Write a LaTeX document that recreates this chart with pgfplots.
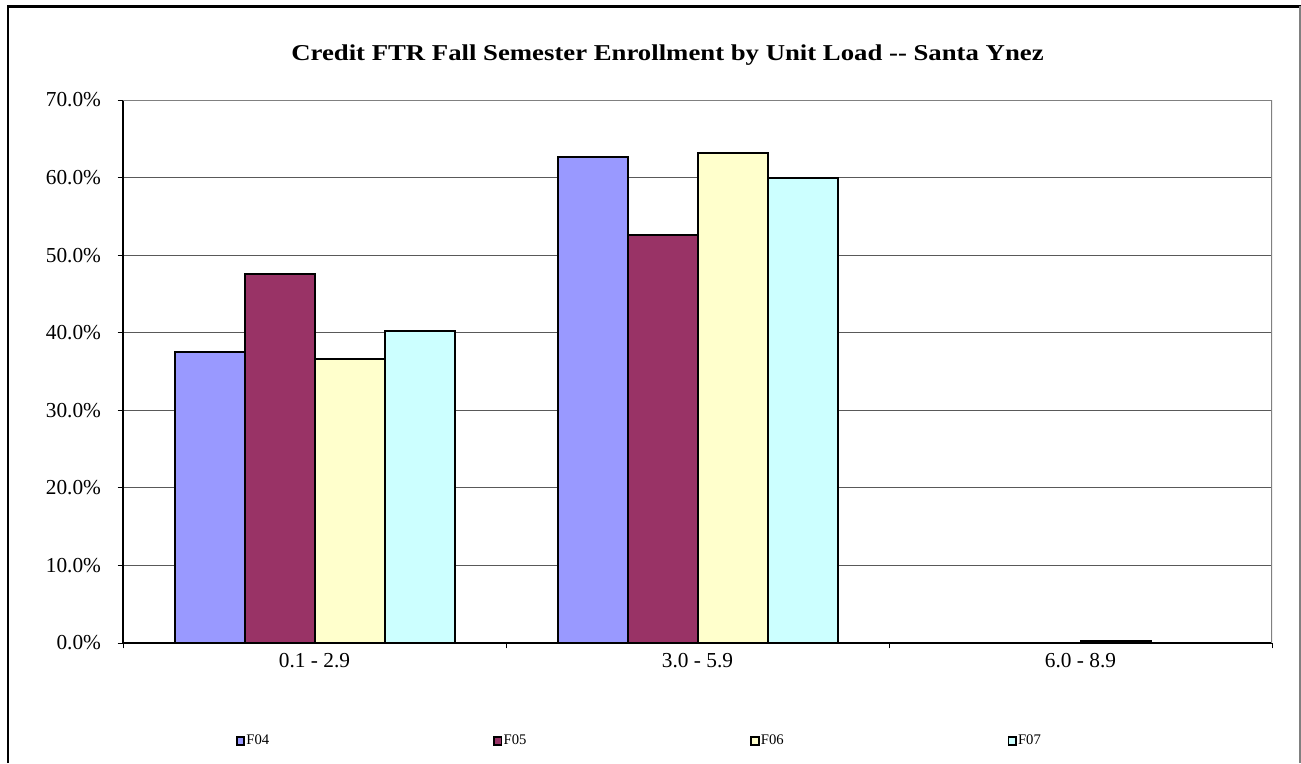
\documentclass[border=0pt]{standalone}
\usepackage{fontspec}
\setmainfont{Liberation Serif}
\usepackage{pgfplots}
\pgfplotsset{compat=1.18}
\definecolor{cF04}{HTML}{9999FF}
\definecolor{cF05}{HTML}{993366}
\definecolor{cF06}{HTML}{FFFFCC}
\definecolor{cF07}{HTML}{CCFFFF}
\newcommand{\legtxt}[1]{\makebox[185pt][l]{#1}}
\begin{document}
\begin{tikzpicture}
\useasboundingbox (0,0) rectangle (975.75pt,572.25pt);
\draw[line width=1.6pt] (6pt,0) -- (6pt,567.4pt) -- (975.75pt,567.4pt);
\draw[gray, line width=0.8pt] (975pt,567.4pt) -- (975pt,0);
\node[font=\fontsize{17}{20}\selectfont\bfseries] at (500.6pt,531pt) {\scalebox{1.18}[1]{Credit FTR Fall Semester Enrollment by Unit Load {-}{-} Santa Ynez}};
\begin{axis}[
  at={(92.25pt,90pt)}, anchor=south west,
  scale only axis, width=861.75pt, height=407.25pt,
  ymin=0, ymax=70, xmin=-0.5, xmax=2.5,
  ybar=0pt, bar width=52.5pt,
  axis x line*=bottom, axis y line*=left,
  axis line style={black, line width=0.9pt, -},
  xtick={0,1,2}, xticklabels={0.1 - 2.9, 3.0 - 5.9, 6.0 - 8.9},
  major x tick style={draw=none},
  minor xtick={-0.5,0.5,1.5,2.5},
  ytick={0,10,20,30,40,50,60,70},
  yticklabels={0.0\%,10.0\%,20.0\%,30.0\%,40.0\%,50.0\%,60.0\%,70.0\%},
  tick align=outside, major tick length=4pt, minor tick length=4pt,
  tick style={black, line width=0.6pt},
  ymajorgrids, grid style={gray!70!black, line width=0.6pt},
  tick label style={font=\fontsize{16}{19}\selectfont},
  yticklabel style={xshift=-9pt},
  legend columns=4,
  legend style={draw=none, fill=none, at={(0.0983,-0.1805)}, anchor=west,
    inner sep=0pt, outer sep=0pt,
    font=\fontsize{11}{13}\selectfont,
    nodes={inner sep=0pt, anchor=west},
    /tikz/every odd column/.append style={column sep=1pt},
    /tikz/every even column/.append style={column sep=0pt}},
  legend image code/.code={\draw[#1, line width=1.3pt] (0.5pt,-2.9pt) rectangle (6.1pt,2.9pt);},
]
\addplot[fill=cF04, draw=black, line width=1.5pt] coordinates {(0,37.5) (1,62.6)};
\addplot[fill=cF05, draw=black, line width=1.5pt] coordinates {(0,47.6) (1,52.6)};
\addplot[fill=cF06, draw=black, line width=1.5pt] coordinates {(0,36.6) (1,63.2) (2,0.3)};
\addplot[fill=cF07, draw=black, line width=1.5pt] coordinates {(0,40.2) (1,59.9)};
\legend{\legtxt{F04},\legtxt{F05},\legtxt{F06},\legtxt{F07}}
\draw[gray, line width=0.9pt] (rel axis cs:0,1) -- (rel axis cs:1,1) -- (rel axis cs:1,0);
\end{axis}
\end{tikzpicture}
\end{document}
